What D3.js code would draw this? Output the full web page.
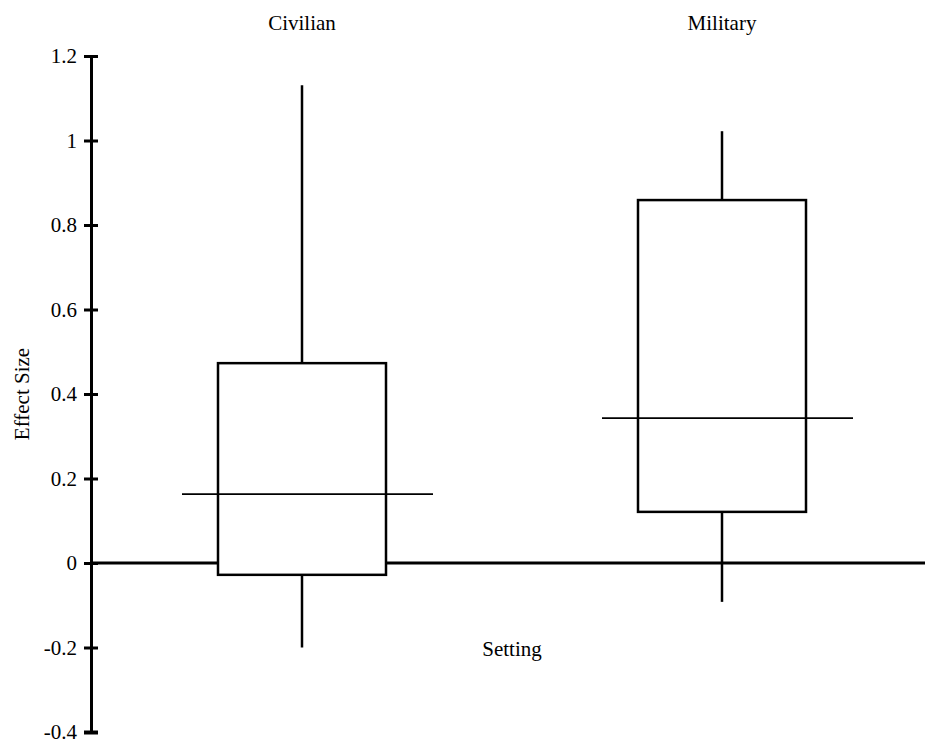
<!DOCTYPE html>
<html>
<head>
<meta charset="utf-8">
<script src="https://cdn.jsdelivr.net/npm/d3@7"></script>
<style>
  html, body { margin: 0; padding: 0; background: #fff; }
  svg { display: block; }
  svg text { font-family: "Liberation Serif", "Times New Roman", serif; fill: #000; }
</style>
</head>
<body>
<script>
// Effect size distribution by setting (box: Q1–Q3, line: median, whiskers: range)
const categories = ["Civilian", "Military"];
const whiskerLow = [-0.20, -0.092];
const q1 = [-0.028, 0.121];
const median = [0.163, 0.343];
const q3 = [0.473, 0.859];
const whiskerHigh = [1.131, 1.022];
const yTicks = [-0.4, -0.2, 0, 0.2, 0.4, 0.6, 0.8, 1, 1.2];
const yTickLabels = ["-0.4", "-0.2", "0", "0.2", "0.4", "0.6", "0.8", "1", "1.2"];

const W = 925, H = 747;
const serif = '"Liberation Serif", "Times New Roman", serif';
const svg = d3.select("body").append("svg").attr("width", W).attr("height", H);

const y = d3.scaleLinear().domain([-0.4, 1.2]).range([732, 56]);
const x = d3.scalePoint().domain(categories).range([302, 722]);
const axisX = 91;
const boxHalf = 84;

const rows = categories.map((c, i) => ({
  c, lo: whiskerLow[i], q1: q1[i], med: median[i], q3: q3[i], hi: whiskerHigh[i]
}));

// zero reference line
svg.append("line")
  .attr("x1", axisX).attr("x2", W)
  .attr("y1", y(0)).attr("y2", y(0))
  .attr("stroke", "#000").attr("stroke-width", 3);

// y axis
const yAxis = d3.axisLeft(y)
  .tickValues(yTicks)
  .tickFormat((d, i) => yTickLabels[i])
  .tickSizeInner(0).tickSizeOuter(0).tickPadding(14);
const gy = svg.append("g").attr("transform", `translate(${axisX},0)`).call(yAxis);
gy.attr("font-family", null).attr("font-size", null);
gy.select(".domain").attr("stroke", "#000").attr("stroke-width", 3);
gy.selectAll(".tick line")
  .attr("x1", -7).attr("x2", 7)
  .attr("stroke", "#000").attr("stroke-width", 3);
gy.selectAll(".tick text")
  .style("font-family", serif)
  .style("font-size", "21px")
  .attr("fill", "#000");
gy.selectAll(".tick").filter(d => d === -0.4).select("line").attr("stroke-width", 4);

// whiskers
const g = svg.append("g");
rows.forEach(r => {
  g.append("line")
    .attr("x1", x(r.c)).attr("x2", x(r.c))
    .attr("y1", y(r.q3)).attr("y2", y(r.hi))
    .attr("stroke", "#000").attr("stroke-width", 2.5);
  g.append("line")
    .attr("x1", x(r.c)).attr("x2", x(r.c))
    .attr("y1", y(r.q1)).attr("y2", y(r.lo))
    .attr("stroke", "#000").attr("stroke-width", 2.5);
});

// boxes
g.selectAll("rect.box").data(rows).join("rect")
  .attr("class", "box")
  .attr("x", d => x(d.c) - boxHalf)
  .attr("width", boxHalf * 2)
  .attr("y", d => y(d.q3))
  .attr("height", d => y(d.q1) - y(d.q3))
  .attr("fill", "#fff")
  .attr("stroke", "#000").attr("stroke-width", 2.5);

// medians
g.selectAll("line.med").data(rows).join("line")
  .attr("class", "med")
  .attr("x1", d => x(d.c) - 120).attr("x2", d => x(d.c) + 131)
  .attr("y1", d => y(d.med)).attr("y2", d => y(d.med))
  .attr("stroke", "#000").attr("stroke-width", 1.6);

// category labels along the top
svg.selectAll("text.cat").data(categories).join("text")
  .attr("class", "cat")
  .attr("x", d => x(d)).attr("y", 30)
  .attr("text-anchor", "middle")
  .style("font-size", "21px")
  .text(d => d);

// axis titles
svg.append("text")
  .attr("transform", `translate(29,${(y(-0.4) + y(1.2)) / 2}) rotate(-90)`)
  .attr("text-anchor", "middle")
  .style("font-size", "21px")
  .text("Effect Size");

svg.append("text")
  .attr("x", 512).attr("y", 656)
  .attr("text-anchor", "middle")
  .style("font-size", "21px")
  .text("Setting");
</script>
</body>
</html>
